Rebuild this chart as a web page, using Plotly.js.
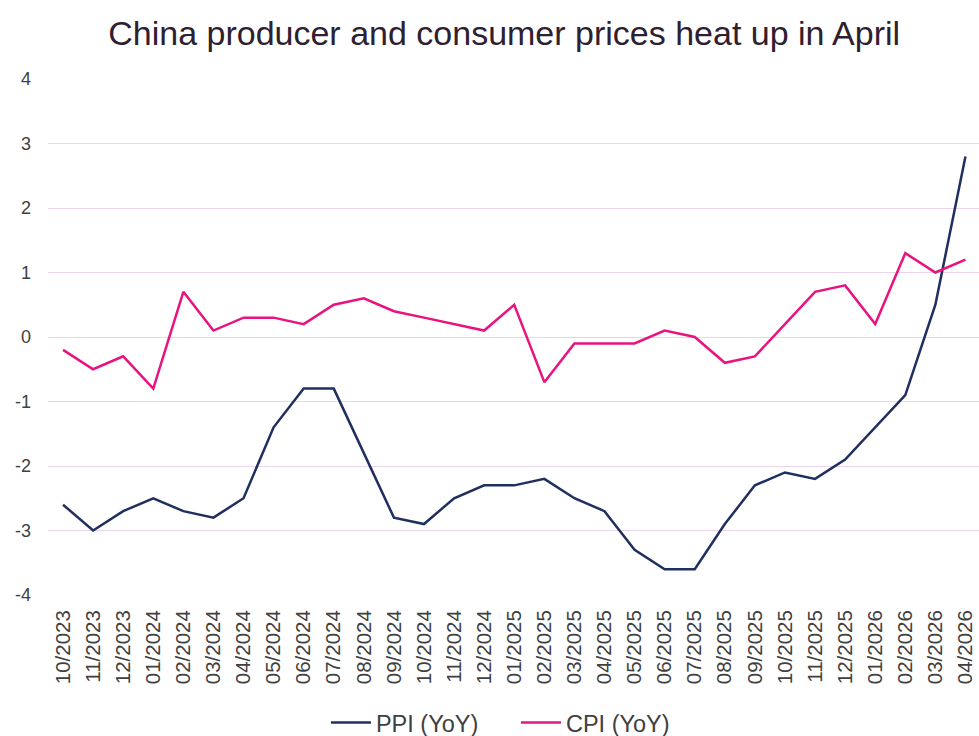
<!DOCTYPE html>
<html>
<head>
<meta charset="utf-8">
<script src="https://cdn.plot.ly/plotly-3.0.1.min.js"></script>
<style>html,body{margin:0;padding:0;background:#fff;}#chart{width:979px;height:736px;}</style>
</head>
<body>
<div id="chart"></div>
<script>
const months = ["10/2023","11/2023","12/2023","01/2024","02/2024","03/2024","04/2024","05/2024","06/2024","07/2024","08/2024","09/2024","10/2024","11/2024","12/2024","01/2025","02/2025","03/2025","04/2025","05/2025","06/2025","07/2025","08/2025","09/2025","10/2025","11/2025","12/2025","01/2026","02/2026","03/2026","04/2026"];
const ppi = [-2.6,-3.0,-2.7,-2.5,-2.7,-2.8,-2.5,-1.4,-0.8,-0.8,-1.8,-2.8,-2.9,-2.5,-2.3,-2.3,-2.2,-2.5,-2.7,-3.3,-3.6,-3.6,-2.9,-2.3,-2.1,-2.2,-1.9,-1.4,-0.9,0.5,2.8];
const cpi = [-0.2,-0.5,-0.3,-0.8,0.7,0.1,0.3,0.3,0.2,0.5,0.6,0.4,0.3,0.2,0.1,0.5,-0.7,-0.1,-0.1,-0.1,0.1,0.0,-0.4,-0.3,0.2,0.7,0.8,0.2,1.3,1.0,1.2];
const yTicks = [-4,-3,-2,-1,0,1,2,3,4];

const traces = [
  {x: months, y: ppi, type: "scatter", mode: "lines", name: "PPI (YoY)",
   line: {color: "#1f2f5f", width: 2.5}},
  {x: months, y: cpi, type: "scatter", mode: "lines", name: "CPI (YoY)",
   line: {color: "#e8137f", width: 2.5}}
];

const layout = {
  width: 979, height: 736,
  paper_bgcolor: "#fff", plot_bgcolor: "#fff",
  font: {family: "Liberation Sans, Arial, sans-serif", color: "#404040"},
  margin: {l: 48, r: 0, t: 79, b: 141},
  title: {text: "China producer and consumer prices heat up in April",
          font: {size: 34, color: "#2e2030", family: "Liberation Sans, Arial, sans-serif"},
          x: 0.515, xanchor: "center", y: 0.955, yanchor: "middle"},
  xaxis: {type: "category", range: [-0.5, 30.45], tickangle: -90,
          tickfont: {size: 20.5, color: "#404040"}, showgrid: false, zeroline: false,
          showline: false, ticks: "", ticklabelstandoff: 10, automargin: false},
  yaxis: {range: [-4, 4], tickvals: yTicks, ticktext: yTicks.map(String),
          tickfont: {size: 18, color: "#404040"}, gridcolor: "#ecd3ec", gridwidth: 1,
          zeroline: false, showline: false, ticks: "", ticklabelstandoff: 16, automargin: false},
  showlegend: true,
  legend: {orientation: "h", xref: "container", yref: "container",
           x: 0.527, xanchor: "center", y: 0.018, yanchor: "middle",
           font: {size: 23.5, color: "#404040"}, itemwidth: 40, entrywidth: 135,
           traceorder: "normal"}
};

Plotly.newPlot("chart", traces, layout, {displayModeBar: false, staticPlot: true});
</script>
</body>
</html>
